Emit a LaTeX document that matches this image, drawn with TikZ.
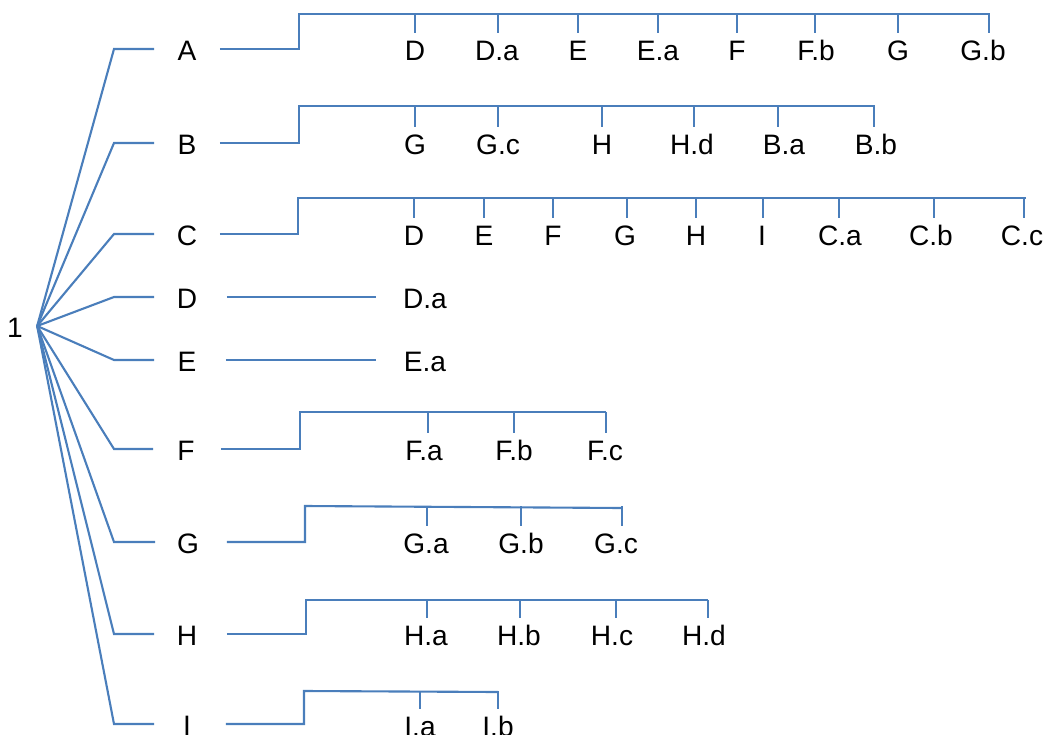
\documentclass[tikz,border=0pt]{standalone}
\usepackage{fontspec}
\setmainfont{Liberation Sans}
\definecolor{linkblue}{RGB}{74,126,187}
\tikzstyle{link}=[draw=linkblue, line width=1.2pt]
\tikzstyle{heavy}=[draw=linkblue, line width=1.6pt]
\tikzstyle{head}=[inner sep=0pt, minimum width=1.3cm, text height=13.2pt, text depth=0pt, font=\fontsize{16}{19}\selectfont]
\tikzstyle{leaf}=[inner sep=0pt, minimum height=0.64cm, text height=13.2pt, text depth=0pt, font=\fontsize{16}{19}\selectfont]

\begin{document}
\begin{tikzpicture}[x=0.02cm, y=-0.02cm]
\useasboundingbox (0,0) rectangle (1045,734);
\node [inner sep=0pt, inner xsep=0.28cm, text height=13.2pt, text depth=0pt, font=\fontsize{16}{19}\selectfont] (root) at (15,326) {1};
\node [head] (A) at (187,49) {A};
\node [head] (B) at (187,143) {B};
\node [head] (C) at (187,234) {C};
\node [head] (D) at (187,297) {D};
\node [head] (E) at (187,360) {E};
\node [head] (F) at (186,449) {F};
\node [head] (G) at (188,542) {G};
\node [head] (H) at (187,634) {H};
\node [head] (I) at (187,724) {I};
\foreach \r in {A,B,C,D,E,F,G,H,I}
  \draw [link] (root.east) -- (\r.west -| 114,0) -- (\r.west);

\coordinate (Abar) at (299,14);
\coordinate (Aend) at (990,14);
\draw [heavy] (A.east) -- (A.east -| Abar) -- (Abar) -- (Aend);
\node [leaf] (A1) at (415,49) {D};
\node [leaf] (A2) at (497,49) {D.a};
\node [leaf] (A3) at (578,49) {E};
\node [leaf] (A4) at (658,49) {E.a};
\node [leaf] (A5) at (737,49) {F};
\node [leaf] (A6) at (816,49) {F.b};
\node [leaf] (A7) at (898,49) {G};
\node [leaf] (A8) at (983,49) {G.b};
\foreach \n/\x in {1/415,2/498,3/578,4/658,5/737,6/815,7/898,8/989}
  \draw [link] (A\n.north -| \x,0) -- (Abar -| \x,0);

\coordinate (Bbar) at (299,106);
\coordinate (Bend) at (875,106);
\draw [link] (B.east) -- (B.east -| Bbar) -- (Bbar) -- (Bend);
\node [leaf] (B1) at (415,143) {G};
\node [leaf] (B2) at (498,143) {G.c};
\node [leaf] (B3) at (602,143) {H};
\node [leaf] (B4) at (692,143) {H.d};
\node [leaf] (B5) at (784,143) {B.a};
\node [leaf] (B6) at (876,143) {B.b};
\foreach \n/\x in {1/415,2/498,3/602,4/694,5/778,6/874}
  \draw [link] (B\n.north -| \x,0) -- (Bbar -| \x,0);

\coordinate (Cbar) at (298,198);
\coordinate (Cend) at (1026,198);
\draw [heavy] (C.east) -- (C.east -| Cbar) -- (Cbar) -- (Cend);
\node [leaf] (C1) at (414,234) {D};
\node [leaf] (C2) at (484,234) {E};
\node [leaf] (C3) at (553,234) {F};
\node [leaf] (C4) at (625,234) {G};
\node [leaf] (C5) at (696,234) {H};
\node [leaf] (C6) at (762,234) {I};
\node [leaf] (C7) at (840,234) {C.a};
\node [leaf] (C8) at (931,234) {C.b};
\node [leaf] (C9) at (1022,234) {C.c};
\foreach \n/\x in {1/414,2/484,3/553,4/627,5/696,6/763,7/839,8/934,9/1024}
  \draw [link] (C\n.north -| \x,0) -- (Cbar -| \x,0);

\node [leaf] (D1) at (425,297) {D.a};
\draw [link] ([xshift=0.14cm]D.east) -- (D.east -| 376,0);
\node [leaf] (E1) at (425,360) {E.a};
\draw [link] ([xshift=0.12cm]E.east) -- (E.east -| 376,0);

\coordinate (Fbar) at (300,412);
\coordinate (Fend) at (606,412);
\draw [link] ([xshift=0.04cm]F.east) -- (F.east -| Fbar) -- (Fbar) -- (Fend);
\node [leaf] (F1) at (424,449) {F.a};
\node [leaf] (F2) at (514,449) {F.b};
\node [leaf] (F3) at (605,449) {F.c};
\foreach \n/\x in {1/428,2/514,3/606}
  \draw [link] (F\n.north -| \x,0) -- (Fbar -| \x,0);

\coordinate (Gbar) at (305,506);
\coordinate (Gend) at (622,508);
\draw [link] ([xshift=0.12cm]G.east) -- (G.east -| Gbar) -- (Gbar) -- (Gend);
\node [leaf] (G1) at (426,542) {G.a};
\node [leaf] (G2) at (521,542) {G.b};
\node [leaf] (G3) at (616,542) {G.c};
\foreach \n/\x in {1/427,2/521,3/622}
  \draw [link] (G\n.north -| \x,0) -- (Gbar -| \x,0);

\coordinate (Hbar) at (306,600);
\coordinate (Hend) at (708,600);
\draw [link] ([xshift=0.14cm]H.east) -- (H.east -| Hbar) -- (Hbar) -- (Hend);
\node [leaf] (H1) at (426,634) {H.a};
\node [leaf] (H2) at (519,634) {H.b};
\node [leaf] (H3) at (612,634) {H.c};
\node [leaf] (H4) at (704,634) {H.d};
\foreach \n/\x in {1/427,2/520,3/616,4/708}
  \draw [link] (H\n.north -| \x,0) -- (Hbar -| \x,0);

\coordinate (Ibar) at (304,691);
\coordinate (Iend) at (498,692);
\draw [link] ([xshift=0.12cm]I.east) -- (I.east -| Ibar) -- (Ibar) -- (Iend);
\node [leaf] (I1) at (420,725) {I.a};
\node [leaf] (I2) at (498,725) {I.b};
\foreach \n/\x in {1/420,2/498}
  \draw [link] (I\n.north -| \x,0) -- (Ibar -| \x,0);
\end{tikzpicture}
\end{document}
